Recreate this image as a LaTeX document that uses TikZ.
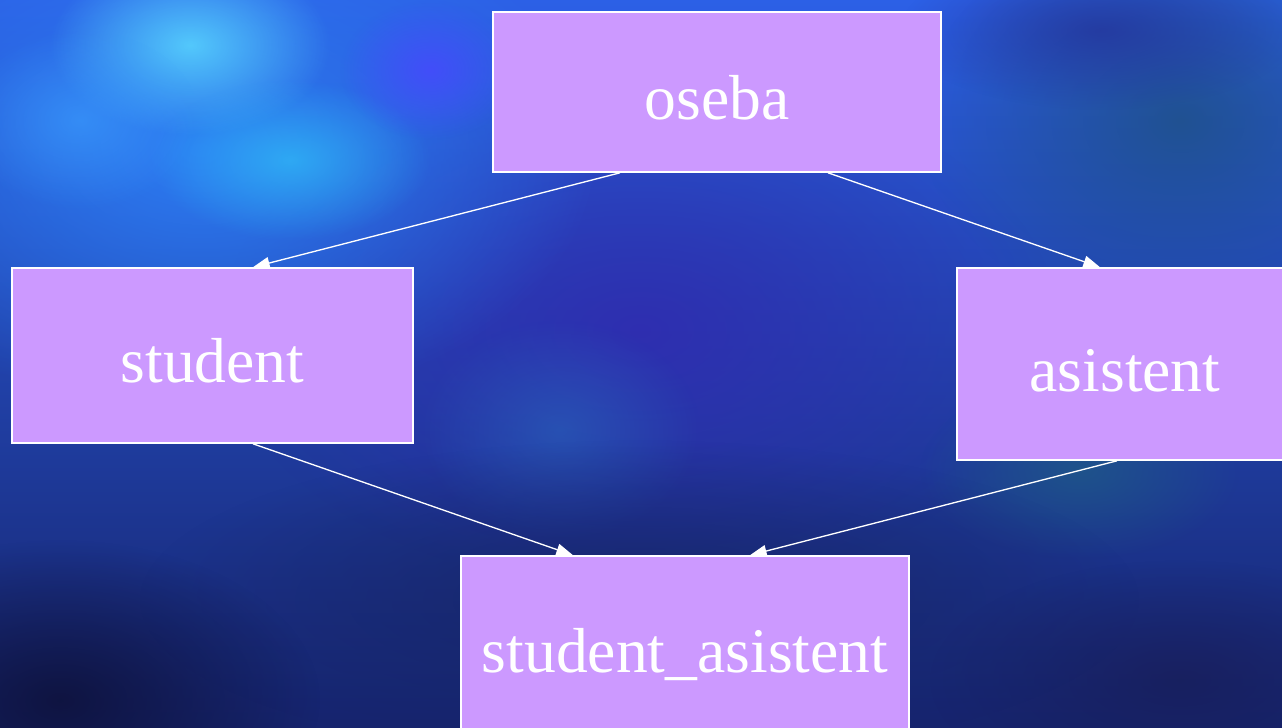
\documentclass[tikz,border=0pt]{standalone}
\usepackage{fontspec}
\setmainfont{Liberation Serif}
\usetikzlibrary{arrows.meta,calc,fadings}
\tikzfading[name=softblob, inner color=transparent!0, outer color=transparent!100]
\definecolor{boxfill}{HTML}{CC99FF}
\newcommand{\blob}[5]{\definecolor{blobcol}{HTML}{#4}\fill[blobcol, fill opacity=#5, path fading=softblob] (#1) ellipse (#2 and #3);}
\tikzset{
  cls/.style={draw=white, line width=1.2pt, fill=boxfill, inner sep=0pt, text=white,
    font=\fontsize{47.7}{57}\selectfont, text height=41pt, text depth=0pt, anchor=center},
  inh/.style={draw=white, line width=1pt, -{Triangle[length=12.5pt,width=9pt]}}
}
\definecolor{bgtop}{HTML}{2C60E6}
\definecolor{bgbot}{HTML}{16246E}
\begin{document}
\begin{tikzpicture}[x=0.75pt,y=-0.75pt]
\useasboundingbox (0,0) rectangle (1282,728);
\begin{scope}
\clip (0,0) rectangle (1282,728);
\shade[top color=bgtop, bottom color=bgbot] (0,0) rectangle (1282,728);
\blob{640,330}{420}{260}{302CB0}{0.9}
\blob{200,150}{400}{260}{2C7CF2}{1}
\blob{190,45}{140}{90}{5AD8FF}{0.85}
\blob{290,160}{140}{80}{30C0F8}{0.7}
\blob{80,120}{120}{90}{3CA0FF}{0.6}
\blob{430,70}{90}{70}{4848FF}{0.8}
\blob{1180,120}{260}{200}{1E5082}{0.8}
\blob{1100,30}{200}{80}{243096}{0.7}
\blob{1080,470}{160}{90}{1E6482}{0.6}
\blob{560,430}{140}{110}{286EBE}{0.5}
\blob{640,600}{500}{160}{162464}{0.8}
\blob{60,700}{260}{160}{0E123C}{0.9}
\blob{1180,680}{250}{120}{181E5A}{0.8}
\end{scope}

\node[cls, minimum width=336pt, minimum height=120pt] (oseba) at (717,92) {oseba};
\node[cls, minimum width=300.75pt, minimum height=131.25pt] (student) at (212.5,355.5) {student};
\node[cls, minimum width=252pt, minimum height=144pt] (asistent) at (1125,364) {asistent};
\node[cls, minimum width=336pt, minimum height=133.5pt] (sa) at (685,645) {student\_asistent};

\draw[inh] ($(oseba.south)+(-97,0)$) -- ($(student.north)+(40.5,0)$);
\draw[inh] ($(oseba.south)+(111,0)$) -- ($(asistent.north)+(-25,0)$);
\draw[inh] ($(student.south)+(40.5,0)$) -- ($(sa.north)+(-112,0)$);
\draw[inh] ($(asistent.south)+(-8,0)$) -- ($(sa.north)+(65,0)$);
\end{tikzpicture}
\end{document}
